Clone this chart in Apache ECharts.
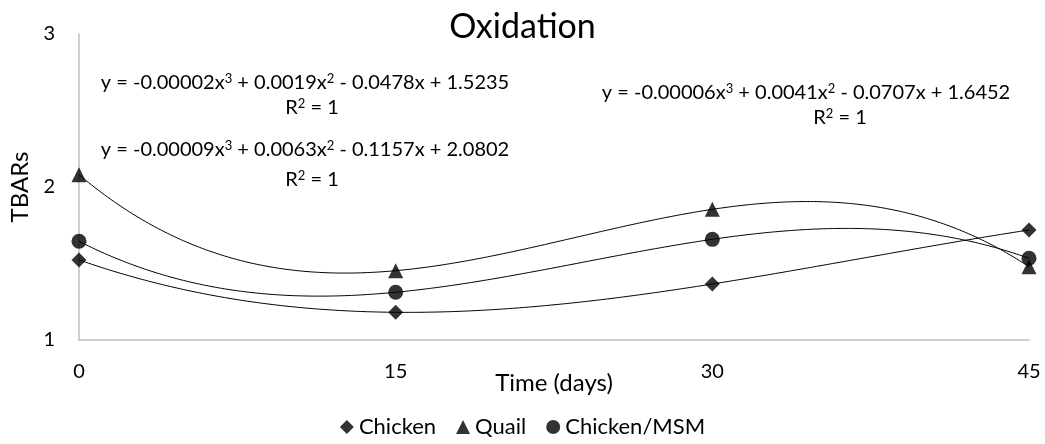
<!DOCTYPE html>
<html>
<head>
<meta charset="utf-8">
<script src="https://cdn.jsdelivr.net/npm/echarts@6/dist/echarts.min.js"></script>
<style>
html,body{margin:0;padding:0;background:#fff;}
#c{width:1045px;height:444px;}
</style>
</head>
<body>
<div id="c"></div>
<script>
const titleText = 'Oxidation';
const days = [0, 15, 30, 45];
const seriesNames = ['Chicken', 'Quail', 'Chicken/MSM'];
const chicken = [1.5235, 1.181, 1.366, 1.719];
const quail = [2.0802, 1.453, 1.854, 1.479];
const chickenMSM = [1.6452, 1.312, 1.658, 1.534];
const yTicks = [1, 2, 3];
const xTicks = [0, 15, 30, 45];
const eqChicken = ['y = -0.00002x{s|3} + 0.0019x{s|2} - 0.0478x + 1.5235', 'R{s|2} = 1'];
const eqQuail = ['y = -0.00009x{s|3} + 0.0063x{s|2} - 0.1157x + 2.0802', 'R{s|2} = 1'];
const eqMSM = ['y = -0.00006x{s|3} + 0.0041x{s|2} - 0.0707x + 1.6452', 'R{s|2} = 1'];

const FONT = 'Lato';

// least-squares polynomial (degree 3) trendline fitted to the data
function polyFit(xs, ys, deg) {
  const n = deg + 1;
  const A = [], b = [];
  for (let i = 0; i < n; i++) {
    A.push(new Array(n).fill(0));
    b.push(0);
    for (let j = 0; j < n; j++) {
      let s = 0;
      for (let k = 0; k < xs.length; k++) s += Math.pow(xs[k], i + j);
      A[i][j] = s;
    }
    let s = 0;
    for (let k = 0; k < xs.length; k++) s += ys[k] * Math.pow(xs[k], i);
    b[i] = s;
  }
  for (let c = 0; c < n; c++) {
    let p = c;
    for (let r = c + 1; r < n; r++) if (Math.abs(A[r][c]) > Math.abs(A[p][c])) p = r;
    [A[c], A[p]] = [A[p], A[c]]; [b[c], b[p]] = [b[p], b[c]];
    for (let r = 0; r < n; r++) {
      if (r === c) continue;
      const f = A[r][c] / A[c][c];
      for (let j = c; j < n; j++) A[r][j] -= f * A[c][j];
      b[r] -= f * b[c];
    }
  }
  return b.map((v, i) => v / A[i][i]);
}
function trend(ys) {
  const co = polyFit(days, ys, 3);
  const pts = [];
  const x0 = days[0], x1 = days[days.length - 1];
  for (let i = 0; i <= 300; i++) {
    const x = x0 + (x1 - x0) * i / 300;
    let y = 0;
    for (let k = 0; k < co.length; k++) y += co[k] * Math.pow(x, k);
    pts.push([x, y]);
  }
  return pts;
}
const pairs = ys => days.map((d, i) => [d, ys[i]]);

const chart = echarts.init(document.getElementById('c'), null, {renderer: 'canvas'});
function eq(text, x, y) {
  return {
    type: 'text', x: x, y: y, silent: true,
    style: {
      text: text, fontFamily: FONT, fontSize: 20, fill: '#000',
      align: 'center', verticalAlign: 'middle',
      rich: {s: {fontFamily: FONT, fontSize: 13, fill: '#000', verticalAlign: 'top', lineHeight: 22}}
    }
  };
}
const option = {
  backgroundColor: '#fff',
  animation: false,
  title: {
    text: titleText, left: 'center', top: 5,
    textStyle: {fontFamily: FONT, fontSize: 34, fontWeight: 'normal', color: '#000'}
  },
  grid: {left: 79, right: 16, top: 34, bottom: 104, containLabel: false, outerBoundsMode: 'none'},
  xAxis: {
    type: 'value', min: 0, max: 45, interval: 15,
    name: 'Time (days)', nameLocation: 'middle', nameGap: 31, nameMoveOverlap: false,
    nameTextStyle: {fontFamily: FONT, fontSize: 24, color: '#000'},
    axisLine: {show: true, lineStyle: {color: '#bfbfbf', width: 1.5}},
    axisTick: {show: false},
    splitLine: {show: false},
    axisLabel: {fontFamily: FONT, fontSize: 20, color: '#000', margin: 22}
  },
  yAxis: {
    type: 'value', min: 1, max: 3, interval: 1,
    name: 'TBARs', nameLocation: 'middle', nameGap: 47, nameRotate: 90, nameMoveOverlap: false,
    nameTextStyle: {fontFamily: FONT, fontSize: 24, color: '#000'},
    axisLine: {show: true, lineStyle: {color: '#bfbfbf', width: 1.5}},
    axisTick: {show: false},
    splitLine: {show: false},
    axisLabel: {fontFamily: FONT, fontSize: 20, color: '#000', margin: 24}
  },
  legend: {
    bottom: 1, left: 'center', itemGap: 20, itemWidth: 14, itemHeight: 14,
    data: [
      {name: seriesNames[0], icon: 'diamond'},
      {name: seriesNames[1], icon: 'triangle'},
      {name: seriesNames[2], icon: 'circle'}
    ],
    textStyle: {fontFamily: FONT, fontSize: 22, color: '#000'}
  },
  graphic: [
    eq(eqChicken[0], 305, 83),
    eq(eqChicken[1], 312, 108),
    eq(eqQuail[0], 305, 150),
    eq(eqQuail[1], 312, 180),
    eq(eqMSM[0], 806, 93),
    eq(eqMSM[1], 840, 118)
  ],
  series: [
    {type: 'line', data: trend(chicken), showSymbol: false, silent: true, lineStyle: {color: '#000', width: 1}, z: 1},
    {type: 'line', data: trend(quail), showSymbol: false, silent: true, lineStyle: {color: '#000', width: 1}, z: 1},
    {type: 'line', data: trend(chickenMSM), showSymbol: false, silent: true, lineStyle: {color: '#000', width: 1}, z: 1},
    {name: seriesNames[0], type: 'scatter', data: pairs(chicken), symbol: 'diamond', symbolSize: 15, itemStyle: {color: '#000'}, z: 3},
    {name: seriesNames[1], type: 'scatter', data: pairs(quail), symbol: 'triangle', symbolSize: 15, itemStyle: {color: '#000'}, z: 3},
    {name: seriesNames[2], type: 'scatter', data: pairs(chickenMSM), symbol: 'circle', symbolSize: 15, itemStyle: {color: '#000'}, z: 3}
  ]
};
chart.setOption(option);
</script>
</body>
</html>
